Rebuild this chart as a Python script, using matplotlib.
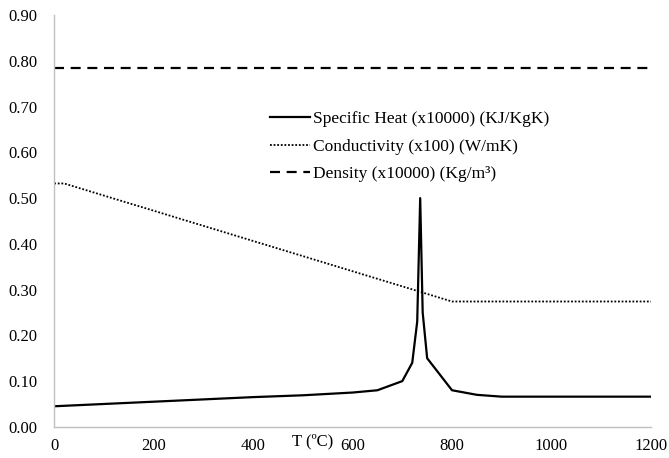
import matplotlib
matplotlib.use('Agg')
import matplotlib.pyplot as plt
import matplotlib.transforms as mtransforms

plt.rcParams['font.family'] = ['Liberation Serif', 'DejaVu Serif']

# temperature points (ºC) and property values
temp_cp = [0, 100, 200, 300, 400, 500, 600, 650, 700, 720, 730, 736, 741, 750, 800, 850, 900, 1200]
specific_heat = [0.045, 0.050, 0.055, 0.060, 0.065, 0.069, 0.075, 0.080, 0.100, 0.140, 0.230, 0.500,
                 0.250, 0.150, 0.080, 0.070, 0.066, 0.066]

temp_k = [0, 20, 800, 1200]
conductivity = [0.532, 0.532, 0.274, 0.274]

temp_rho = [0, 1200]
density = [0.785, 0.785]

labels = ['Specific Heat (x10000) (KJ/KgK)',
          'Conductivity (x100) (W/mK)',
          'Density (x10000) (Kg/m³)']
x_ticks = [0, 200, 400, 600, 800, 1000, 1200]
y_ticks = [0.0, 0.1, 0.2, 0.3, 0.4, 0.5, 0.6, 0.7, 0.8, 0.9]

fig = plt.figure(figsize=(6.69, 4.58), dpi=100)
ax = fig.add_axes([0.081, 0.068, 0.892, 0.899])

ax.plot(temp_cp, specific_heat, color='black', lw=1.6, label=labels[0])
ax.plot(temp_k, conductivity, color='black', lw=1.3, linestyle=(0, (1, 1)), label=labels[1])
ax.plot(temp_rho, density, color='black', lw=1.6, linestyle=(0, (4.5, 3)), label=labels[2])

ax.set_xlim(0, 1200)
ax.set_ylim(0, 0.9)
ax.set_xticks(x_ticks)
ax.set_yticks(y_ticks)
ax.set_yticklabels([f'{v:.2f}' for v in y_ticks])
ax.tick_params(axis='both', length=0, labelsize=12)
ax.tick_params(axis='y', pad=12)
ax.tick_params(axis='x', pad=8)

for side in ['top', 'right']:
    ax.spines[side].set_visible(False)
for side in ['left', 'bottom']:
    ax.spines[side].set_color('#c0c0c0')
    ax.spines[side].set_linewidth(1.0)

# axis title sits in line with the tick labels
trans = mtransforms.blended_transform_factory(ax.transData, ax.transAxes)
ax.text(520, -0.036, 'T (ºC)', transform=trans, ha='center', va='center', fontsize=12)

ax.legend(loc='center left', bbox_to_anchor=(270 / 669, 1 - 146.5 / 458),
          bbox_transform=fig.transFigure, frameon=False, fontsize=12.5,
          handlelength=2.3, handletextpad=0.2, labelspacing=0.65,
          borderpad=0, borderaxespad=0)

fig.savefig('out.png', dpi=100)
